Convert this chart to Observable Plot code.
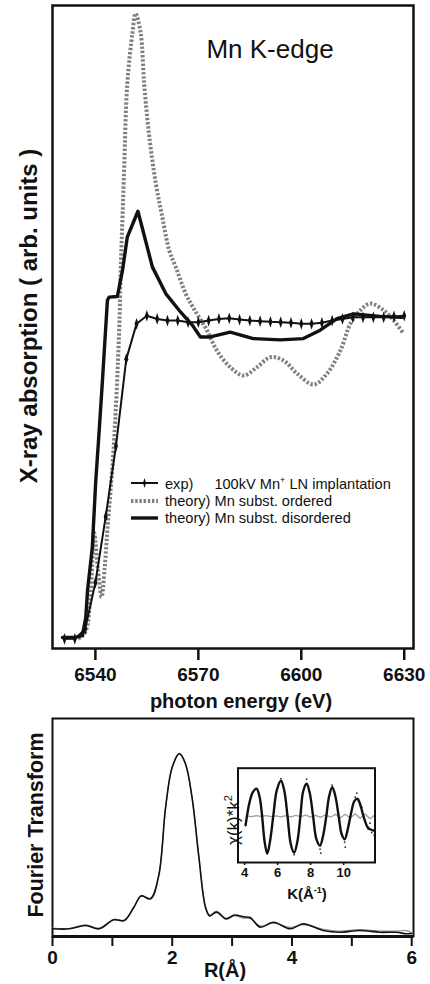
<!DOCTYPE html>
<html><head><meta charset="utf-8">
<script src="https://cdn.jsdelivr.net/npm/d3@7"></script>
<script src="https://cdn.jsdelivr.net/npm/@observablehq/plot@0.6"></script>
<style>
body{margin:0;background:#fff;}
#root{position:relative;width:430px;height:984px;overflow:hidden;font-family:"Liberation Sans",Arial,Helvetica,sans-serif;color:#111;background:#fff;}
.abs{position:absolute;white-space:nowrap;line-height:1;}
.plot{position:absolute;left:0;}
</style></head><body><div id="root"></div>
<script>
// ---------- top panel: XANES ----------
const energyTicks = [6540, 6570, 6600, 6630];
const expE = [6531,6534,6537,6540,6543,6546,6549,6552,6555,6558,6561,6564,6567,6570,6573,6576,6579,6582,6585,6588,6591,6594,6597,6600,6603,6606,6609,6612,6615,6618,6621,6624,6627,6630];
const expA = [0,0,0.03,0.175,0.38,0.6,0.87,0.98,1.005,0.995,0.99,0.99,0.985,0.985,0.99,0.995,0.997,0.993,0.99,0.988,0.986,0.985,0.983,0.98,0.98,0.983,0.99,0.995,1.0,1.0,1.0,1.0,1.003,1.005];
const ordE = [6535,6537,6538.5,6539.6,6540.7,6541.8,6542.7,6543.5,6545.3,6546.9,6547.4,6547.9,6548.4,6549.3,6550.8,6551.7,6553.2,6554.2,6555.6,6557.6,6559.5,6561.5,6563.4,6566.3,6568.5,6572.5,6575.4,6579.3,6583.2,6587.1,6591,6594.8,6598.8,6603.6,6607.5,6611.4,6614.3,6617.2,6620.1,6624,6626.9,6629.6];
const ordA = [0,0.02,0.12,0.33,0.22,0.13,0.22,0.34,0.59,0.95,1.157,1.312,1.468,1.728,1.884,1.945,1.884,1.728,1.572,1.417,1.312,1.209,1.157,1.074,1.03,0.96,0.897,0.845,0.819,0.845,0.876,0.866,0.825,0.791,0.825,0.897,0.98,1.022,1.043,1.022,0.991,0.952];
const disE = [6530.4,6533.8,6536.2,6537.2,6537.7,6539.1,6540.1,6541.1,6542.0,6543.5,6544.0,6546.4,6547.9,6549.3,6552.4,6556.6,6560.5,6564.4,6568.3,6570.6,6573.5,6579.3,6586.0,6593.9,6600.6,6605.5,6610.4,6615.2,6623,6629.3];
const disA = [0.004,0.004,0.01,0.066,0.15,0.284,0.49,0.647,0.794,1.053,1.063,1.065,1.146,1.25,1.33,1.157,1.074,1.022,0.975,0.939,0.939,0.954,0.934,0.93,0.934,0.96,0.996,1.011,1.003,1.0];
const legendLabels = ["exp)", "100kV Mn", "+", " LN implantation", "theory) Mn subst. ordered", "theory) Mn subst. disordered"];

// ---------- bottom panel: Fourier transform ----------
const rTicks = [0,1,2,3,4,5,6];
const ftR  = [0,0.28,0.555,0.78,1.025,1.2,1.36,1.48,1.64,1.775,1.89,2.0,2.12,2.22,2.33,2.445,2.555,2.625,2.74,2.9,3.04,3.195,3.3,3.47,3.69,3.97,4.19,4.52,4.8,5.13,5.47,5.75,5.91,6.0];
const ftF  = [0.042,0.042,0.06,0.042,0.091,0.087,0.16,0.221,0.206,0.333,0.707,0.925,0.998,0.944,0.761,0.433,0.16,0.112,0.133,0.096,0.117,0.107,0.104,0.051,0.078,0.042,0.069,0.033,0.023,0.033,0.023,0.023,0.015,0.016];
const ftF2 = [0.046,0.044,0.064,0.046,0.094,0.09,0.162,0.224,0.209,0.336,0.705,0.922,0.995,0.942,0.76,0.436,0.165,0.118,0.138,0.1,0.112,0.1,0.098,0.058,0.072,0.05,0.064,0.04,0.03,0.038,0.03,0.03,0.032,0.02];

// ---------- inset: chi(k)*k^2 ----------
const kTicks = [4,6,8,10];
const chiK = [4.06,4.3,4.5,4.72,4.9,5.05,5.2,5.37,5.55,5.75,5.95,6.2,6.4,6.6,6.8,7.0,7.2,7.38,7.55,7.76,7.95,8.15,8.35,8.57,8.75,8.95,9.12,9.31,9.5,9.7,9.88,10.06,10.25,10.45,10.65,10.83,11.0,11.2,11.45,11.6,11.84];
const chiV = [-0.9,1.4,2.4,2.75,2.0,0.2,-2.4,-3.75,-2.4,0.2,2.6,3.55,2.6,0.0,-2.8,-3.65,-2.5,0.0,2.5,3.25,2.3,0.0,-2.3,-2.95,-2.0,0.0,2.0,2.9,2.0,0.0,-1.8,-2.3,-1.3,0.3,1.5,1.75,1.2,0.0,-1.1,-1.3,-1.45];
const chiDotK = [6.2,7.0,7.7,7.76,8.57,8.62,9.3,9.4,10.06,10.1,10.7,10.8,10.9,11.0,11.1,11.3,11.5,11.6,11.7,11.85];
const chiDotV = [3.75,-3.85,3.1,3.7,-3.3,-3.7,3.1,2.5,-2.6,-3.1,1.9,2.3,1.5,1.05,0.9,-0.4,-1.3,-0.7,-1.65,-1.9];
const resK = [4.1,4.4,4.7,5.0,5.3,5.6,5.9,6.2,6.5,6.8,7.1,7.4,7.7,8.0,8.3,8.6,8.9,9.2,9.5,9.8,10.1,10.4,10.7,11.0,11.3,11.6,11.9];
const resV = [0.03,-0.05,0.05,-0.03,0.06,-0.05,0.04,-0.07,0.05,-0.06,0.09,-0.05,0.1,-0.1,0.08,-0.12,0.15,-0.1,0.18,-0.15,0.2,-0.18,0.25,-0.2,0.22,-0.25,0.15];

const FONT = '"Liberation Sans", Arial, Helvetica, sans-serif';
const root = document.getElementById("root");

const zip = (xs, ys) => xs.map((x, i) => ({x, y: ys[i]}));
const expData = zip(expE, expA), ordData = zip(ordE, ordA), disData = zip(disE, disA);
const ftData = zip(ftR, ftF), ftData2 = zip(ftR, ftF2);
const chiData = zip(chiK, chiV), chiDots = zip(chiDotK, chiDotV), resData = zip(resK, resV);

// thin vertical spike marker like the original "exp" symbols
const spike = {draw(ctx, size) {
  const r = Math.sqrt(size) / 2;
  ctx.moveTo(0, -r * 2.2); ctx.lineTo(r * 0.75, 0); ctx.lineTo(0, r * 2.2); ctx.lineTo(-r * 0.75, 0); ctx.closePath();
}};

function place(el, y, x = 0) {
  el.classList.add("plot"); el.style.top = y + "px"; el.style.left = x + "px"; root.appendChild(el);
}
function label(text, {cx, baseline, size, weight = "normal", html = false}) {
  const d = document.createElement("div");
  d.className = "abs";
  d.style.fontSize = size + "px"; d.style.fontWeight = weight;
  d.style.left = cx + "px"; d.style.top = (baseline - 0.8465 * size) + "px";
  d.style.transform = "translateX(-50%)";
  if (html) d.innerHTML = text; else d.textContent = text;
  root.appendChild(d); return d;
}
function vlabel(text, {cx, cy, size, weight = "normal", html = false}) {
  const d = document.createElement("div");
  d.className = "abs";
  d.style.fontSize = size + "px"; d.style.fontWeight = weight;
  d.style.left = cx + "px"; d.style.top = cy + "px";
  d.style.transform = "translate(-50%,-50%) rotate(-90deg)";
  if (html) d.innerHTML = text; else d.textContent = text;
  root.appendChild(d); return d;
}

// ---------- top plot ----------
const topPlot = Plot.plot({
  width: 430, height: 720,
  marginTop: 5, marginBottom: 72, marginLeft: 52, marginRight: 17,
  style: {fontFamily: FONT, background: "transparent", overflow: "visible"},
  x: {domain: [6527.5, 6632.7], label: null},
  y: {domain: [-0.03, 1.97], axis: null},
  marks: [
    Plot.line(ordData, {x: "x", y: "y", stroke: "#808080", strokeWidth: 4, strokeDasharray: "2.4,1.8", strokeLinecap: "butt", curve: "catmull-rom"}),
    Plot.line(disData, {x: "x", y: "y", stroke: "#111", strokeWidth: 3.4, strokeLinejoin: "round"}),
    Plot.line(expData, {x: "x", y: "y", stroke: "#111", strokeWidth: 2}),
    Plot.dot(expData, {x: "x", y: "y", symbol: spike, r: 3, fill: "#111", stroke: "none"}),
    Plot.frame({stroke: "#111", strokeWidth: 2.5}),
    Plot.axisX(energyTicks, {tickSize: 12, strokeWidth: 2.5, tickPadding: 7, fontSize: 19, fontWeight: "bold", label: null, fill: "#111",
      tickFormat: d => String(d)})
  ]
});
place(topPlot, 0);

// ---------- bottom plot ----------
const botPlot = Plot.plot({
  width: 430, height: 284,
  marginTop: 18, marginBottom: 48, marginLeft: 52, marginRight: 17,
  style: {fontFamily: FONT, background: "transparent", overflow: "visible"},
  x: {domain: [0, 6.03], label: null},
  y: {domain: [0, 1.19], axis: null},
  marks: [
    Plot.frame({stroke: "#111", strokeWidth: 2}),
    Plot.ruleY([0], {stroke: "#111", strokeWidth: 3}),
    Plot.line(ftData2, {x: "x", y: "y", stroke: "#8a8a8a", strokeWidth: 1.1, curve: "catmull-rom"}),
    Plot.line(ftData, {x: "x", y: "y", stroke: "#111", strokeWidth: 1.6, curve: "catmull-rom"}),
    Plot.axisX(rTicks, {tickSize: 10, strokeWidth: 2, tickPadding: 4, fontSize: 19, fontWeight: "bold", label: null, fill: "#111",
      tickFormat: d => (d % 2 === 0 ? String(d) : "")})
  ]
});
place(botPlot, 700);

// ---------- inset ----------
const insetPlot = Plot.plot({
  width: 200, height: 150,
  marginTop: 12.7, marginBottom: 43, marginLeft: 37.5, marginRight: 25.5,
  style: {fontFamily: FONT, background: "transparent", overflow: "visible"},
  x: {domain: [3.6, 11.9], label: null},
  y: {domain: [-4.63, 4.8], axis: null},
  marks: [
    Plot.frame({fill: "white", stroke: "none"}),
    Plot.line(resData, {x: "x", y: "y", stroke: "#a0a0a0", strokeWidth: 1.3}),
    Plot.dot(chiDots, {x: "x", y: "y", r: 0.9, fill: "#333", stroke: "none"}),
    Plot.line(chiData, {x: "x", y: "y", stroke: "#111", strokeWidth: 2.4, curve: "catmull-rom"}),
    Plot.frame({stroke: "#111", strokeWidth: 2}),
    Plot.axisX(kTicks, {tickSize: 3, strokeWidth: 1.5, tickPadding: 2, fontSize: 13, fontWeight: "bold", label: null, fill: "#111"})
  ]
});
place(insetPlot, 755, 200);

// ---------- text labels ----------
label("Mn K-edge", {cx: 270, baseline: 58, size: 26});
label("photon energy (eV)", {cx: 241, baseline: 708, size: 20, weight: "bold"});
vlabel("X-ray absorption ( arb. units )", {cx: 29, cy: 316, size: 24, weight: "bold"});
vlabel("Fourier Transform", {cx: 37, cy: 825, size: 21.5, weight: "bold"});
label("R(Å)", {cx: 225, baseline: 977, size: 20, weight: "bold"});
label("K(Å<sup style='font-size:9px;vertical-align:6px'>-1</sup>)", {cx: 307, baseline: 899, size: 15, weight: "bold", html: true});
vlabel("χ(k)*k<sup style='font-size:11px;vertical-align:7px'>2</sup>", {cx: 232, cy: 820, size: 17, html: true});

// ---------- legend ----------
const legendRows = [
  {y: 483, kind: "exp"},
  {y: 501, kind: "ord"},
  {y: 518, kind: "dis"}
];
const ns = "http://www.w3.org/2000/svg";
const lg = document.createElementNS(ns, "svg");
lg.setAttribute("width", 430); lg.setAttribute("height", 984);
lg.style.position = "absolute"; lg.style.left = "0"; lg.style.top = "0";
for (const row of legendRows) {
  const ln = document.createElementNS(ns, "line");
  ln.setAttribute("x1", 131); ln.setAttribute("x2", 158);
  ln.setAttribute("y1", row.y); ln.setAttribute("y2", row.y);
  if (row.kind === "exp") { ln.setAttribute("stroke", "#111"); ln.setAttribute("stroke-width", 2); }
  if (row.kind === "ord") { ln.setAttribute("stroke", "#808080"); ln.setAttribute("stroke-width", 4); ln.setAttribute("stroke-dasharray", "2.4,1.8"); }
  if (row.kind === "dis") { ln.setAttribute("stroke", "#111"); ln.setAttribute("stroke-width", 3.4); }
  lg.appendChild(ln);
  if (row.kind === "exp") {
    const p = document.createElementNS(ns, "path");
    p.setAttribute("d", `M144.5,${row.y - 5}L146,${row.y}L144.5,${row.y + 5}L143,${row.y}Z`);
    p.setAttribute("fill", "#111"); lg.appendChild(p);
  }
}
root.appendChild(lg);
const LS = 14.6;
const l1 = document.createElement("div"); l1.className = "abs";
l1.style.cssText += "left:165px;font-size:" + LS + "px;top:" + (488 - 0.8465 * LS) + "px";
l1.innerHTML = legendLabels[0] + "<span style='display:inline-block;width:21px'></span>" + legendLabels[1] + "<sup style='font-size:9px;vertical-align:6px'>" + legendLabels[2] + "</sup>" + legendLabels[3];
root.appendChild(l1);
const l2 = document.createElement("div"); l2.className = "abs";
l2.style.cssText += "left:165px;font-size:" + LS + "px;top:" + (506 - 0.8465 * LS) + "px";
l2.textContent = legendLabels[4]; root.appendChild(l2);
const l3 = document.createElement("div"); l3.className = "abs";
l3.style.cssText += "left:165px;font-size:" + LS + "px;top:" + (523 - 0.8465 * LS) + "px";
l3.textContent = legendLabels[5]; root.appendChild(l3);
</script></body></html>
